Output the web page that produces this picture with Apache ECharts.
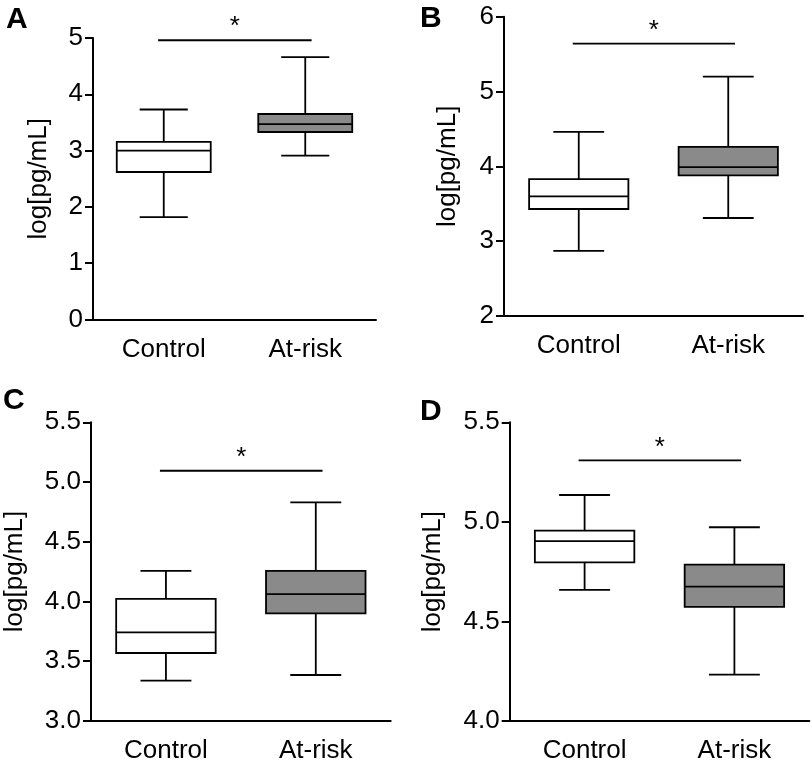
<!DOCTYPE html>
<html>
<head>
<meta charset="utf-8">
<script src="https://cdn.jsdelivr.net/npm/echarts@6/dist/echarts.min.js"></script>
<style>
html,body{margin:0;padding:0;background:#fff;}
#chart{width:812px;height:767px;}
</style>
</head>
<body>
<div id="chart"></div>
<script>
// ---- data ----
const categories = ['Control', 'At-risk'];
const panelLabels = ['A', 'B', 'C', 'D'];
const yTitle = 'log[pg/mL]';
// each box: [min, Q1, median, Q3, max]
const boxA = [[1.82, 2.62, 3.00, 3.155, 3.73], [2.91, 3.33, 3.47, 3.65, 4.66]];
const boxB = [[2.87, 3.43, 3.60, 3.83, 4.46], [3.31, 3.88, 3.99, 4.26, 5.20]];
const boxC = [[3.335, 3.567, 3.74, 4.02, 4.256], [3.383, 3.90, 4.061, 4.255, 4.829]];
const boxD = [[4.658, 4.797, 4.903, 4.956, 5.135], [4.233, 4.573, 4.675, 4.785, 4.973]];
const sigY = [4.96, 5.64, 5.094, 5.309];
const sigText = ['*', '*', '*', '*'];
const yMin = [0, 2, 3.0, 4.0];
const yMax = [5, 6, 5.5, 5.5];
const yInterval = [1, 1, 0.5, 0.5];
const yDecimals = [0, 0, 1, 1];

// ---- layout/styles ----
const boxes = [boxA, boxB, boxC, boxD];
const grids = [
  {left: 93, right: 436, top: 38, bottom: 447.5},
  {left: 504, right: 9, top: 16.7, bottom: 451},
  {left: 91, right: 421.3, top: 422.3, bottom: 46.3},
  {left: 509.7, right: 2.7, top: 422.3, bottom: 46}
];
const titlePos = [{left: 6, top: 5}, {left: 420, top: 4}, {left: 3, top: 386}, {left: 420, top: 397}];
const nameGaps = [41, 43, 63, 64];
const FONT = '"Liberation Sans", Arial, Helvetica, sans-serif';
const BLACK = '#000';
const fills = ['#ffffff', '#8a8a8a'];

const option = {
  animation: false,
  backgroundColor: '#fff',
  title: panelLabels.map((t, i) => ({
    text: t, left: titlePos[i].left, top: titlePos[i].top, padding: 0,
    textStyle: {fontFamily: FONT, fontWeight: 'bold', fontSize: 30, color: BLACK}
  })),
  grid: grids,
  xAxis: grids.map((g, i) => ({
    type: 'category', gridIndex: i, data: categories, boundaryGap: true,
    axisLine: {lineStyle: {color: BLACK, width: 2}},
    axisTick: {alignWithLabel: true, length: 9, lineStyle: {color: BLACK, width: 2}},
    axisLabel: {color: BLACK, fontFamily: FONT, fontSize: 26, margin: 17},
    splitLine: {show: false}
  })),
  yAxis: grids.map((g, i) => ({
    type: 'value', gridIndex: i, min: yMin[i], max: yMax[i], interval: yInterval[i],
    name: yTitle, nameLocation: 'middle', nameGap: nameGaps[i],
    nameTextStyle: {color: BLACK, fontFamily: FONT, fontSize: 26},
    axisLine: {show: true, lineStyle: {color: BLACK, width: 2}},
    axisTick: {show: true, length: 8, lineStyle: {color: BLACK, width: 2}},
    axisLabel: {color: BLACK, fontFamily: FONT, fontSize: 26, margin: 10,
      formatter: v => v.toFixed(yDecimals[i])},
    splitLine: {show: false}
  })),
  series: []
};

function boxRender(params, api) {
  const x = api.value(0);
  const band = api.size([1, 0])[0];
  const bw = band * 0.664, cw = band * 0.34;
  const pMin = api.coord([x, api.value(1)]);
  const pQ1 = api.coord([x, api.value(2)]);
  const pMed = api.coord([x, api.value(3)]);
  const pQ3 = api.coord([x, api.value(4)]);
  const pMax = api.coord([x, api.value(5)]);
  const cx = pMed[0];
  const ls = {stroke: BLACK, lineWidth: 1.8};
  return {
    type: 'group',
    children: [
      {type: 'line', shape: {x1: cx, y1: pMax[1], x2: cx, y2: pQ3[1]}, style: ls},
      {type: 'line', shape: {x1: cx, y1: pQ1[1], x2: cx, y2: pMin[1]}, style: ls},
      {type: 'line', shape: {x1: cx - cw / 2, y1: pMax[1], x2: cx + cw / 2, y2: pMax[1]}, style: ls},
      {type: 'line', shape: {x1: cx - cw / 2, y1: pMin[1], x2: cx + cw / 2, y2: pMin[1]}, style: ls},
      {type: 'rect', shape: {x: cx - bw / 2, y: pQ3[1], width: bw, height: pQ1[1] - pQ3[1]},
        style: {fill: fills[x], stroke: BLACK, lineWidth: 1.8}},
      {type: 'line', shape: {x1: cx - bw / 2, y1: pMed[1], x2: cx + bw / 2, y2: pMed[1]}, style: ls}
    ]
  };
}

function sigRender(params, api) {
  const y = api.value(1);
  const band = api.size([1, 0])[0];
  const p0 = api.coord([0, y]);
  const p1 = api.coord([1, y]);
  const x0 = p0[0] - band * 0.04, x1 = p1[0] + band * 0.045;
  return {
    type: 'group',
    children: [
      {type: 'line', shape: {x1: x0, y1: p0[1], x2: x1, y2: p0[1]}, style: {stroke: BLACK, lineWidth: 1.8}},
      {type: 'text', x: (x0 + x1) / 2, y: p0[1] - 13,
        style: {text: sigText[params.seriesIndex / 2 | 0], fontFamily: FONT, fontSize: 26, fill: BLACK,
          textAlign: 'center', textVerticalAlign: 'middle'}}
    ]
  };
}

boxes.forEach((b, i) => {
  option.series.push({
    type: 'custom', xAxisIndex: i, yAxisIndex: i, renderItem: boxRender,
    encode: {x: 0, y: [1, 2, 3, 4, 5]},
    data: b.map((v, k) => [k].concat(v)), clip: false, silent: true
  });
  option.series.push({
    type: 'custom', xAxisIndex: i, yAxisIndex: i, renderItem: sigRender,
    encode: {x: 0, y: 1},
    data: [[0, sigY[i]]], clip: false, silent: true
  });
});

const chart = echarts.init(document.getElementById('chart'), null, {renderer: 'canvas'});
chart.setOption(option);
</script>
</body>
</html>
